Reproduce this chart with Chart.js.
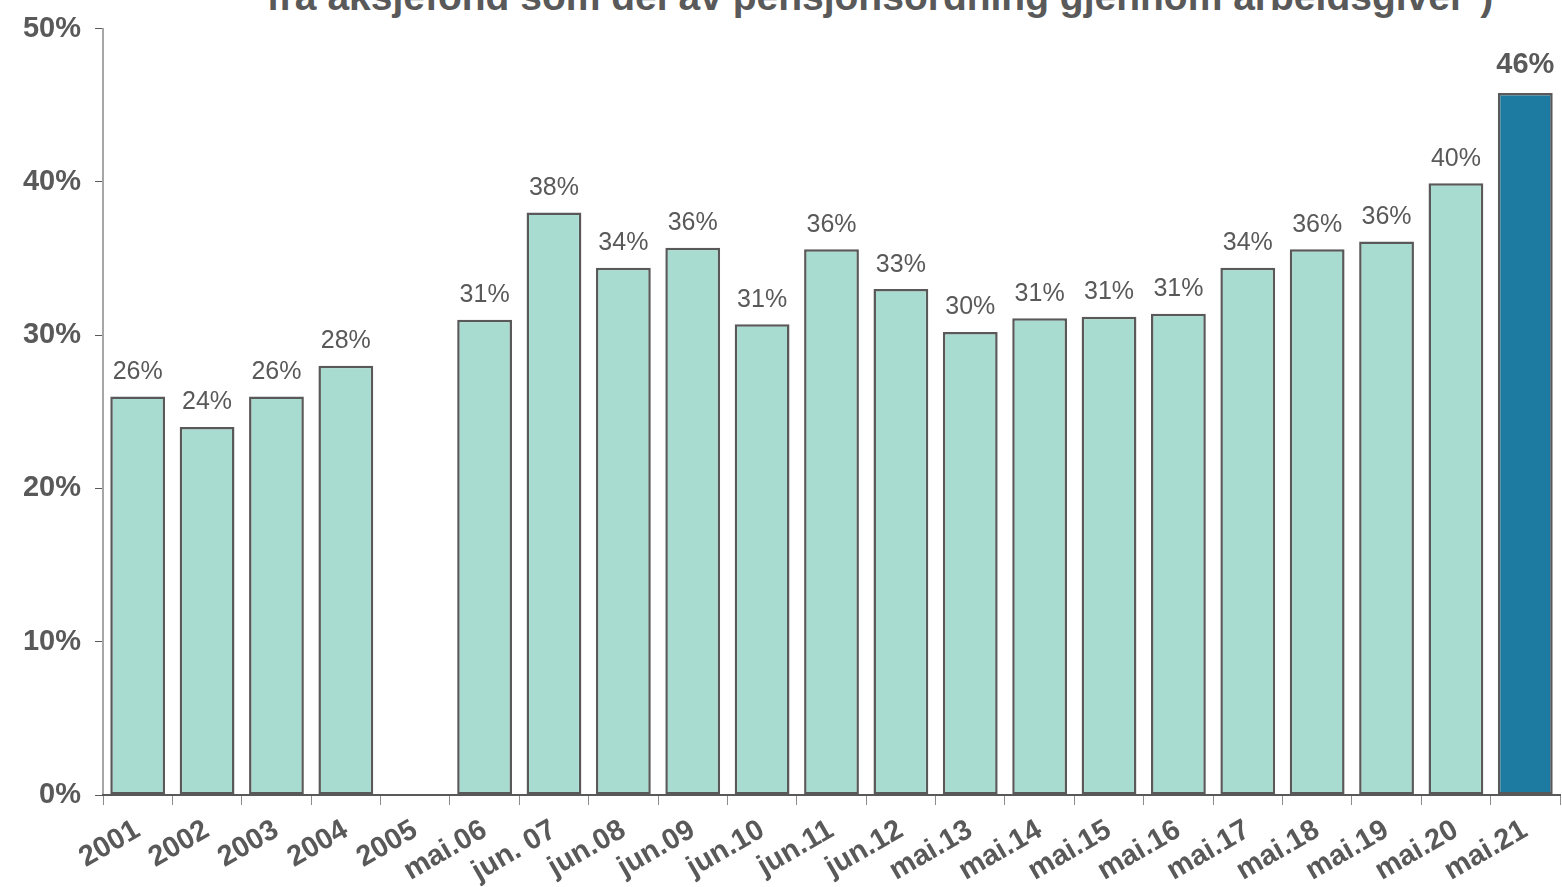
<!DOCTYPE html>
<html>
<head>
<meta charset="utf-8">
<script src="https://cdn.jsdelivr.net/npm/chart.js@4"></script>
<style>
  html, body { margin: 0; padding: 0; background: #fff; overflow: hidden; }
  #wrap { position: relative; width: 1562px; height: 887px; }
  #tittel {
    position: absolute; top: -25px; left: 250px; width: 1260px;
    font: bold 39px "Liberation Sans", Arial, sans-serif; color: #595959;
    text-align: center; white-space: nowrap;
  }
  canvas { position: absolute; left: 0; top: 0; }
</style>
</head>
<body>
<div id="wrap">
  <div id="tittel">fra aksjefond som del av pensjonsordning gjennom arbeidsgiver*)</div>
  <canvas id="barChart" width="1562" height="887"></canvas>
</div>
<script>
// Kategorier og verdier (andel i prosent)
var kategorier = ["2001", "2002", "2003", "2004", "2005", "mai.06", "jun. 07", "jun.08", "jun.09", "jun.10",
    "jun.11", "jun.12", "mai.13", "mai.14", "mai.15", "mai.16", "mai.17", "mai.18", "mai.19", "mai.20", "mai.21"];
var andel = [26.0, 24.0, 26.0, 28.0, null, 31.0, 38.0, 34.4, 35.7, 30.7,
    35.6, 33.0, 30.2, 31.1, 31.2, 31.4, 34.4, 35.6, 36.1, 39.9, 45.8];
var yTicks = [0, 10, 20, 30, 40, 50];

var gra = '#595959';
var farger = andel.map(function (v, i) { return i === andel.length - 1 ? '#1D7AA0' : '#A8DCD1'; });

// Verdietiketter over søylene
var etiketter = {
    id: 'etiketter',
    afterDatasetsDraw: function (chart) {
        var ctx = chart.ctx;
        var meta = chart.getDatasetMeta(0);
        ctx.save();
        ctx.textAlign = 'center';
        ctx.textBaseline = 'bottom';
        ctx.fillStyle = gra;
        meta.data.forEach(function (bar, i) {
            var v = andel[i];
            if (v === null) return;
            var siste = i === andel.length - 1;
            ctx.font = (siste ? 'bold 29px' : '25px') + ' "Liberation Sans", Arial, sans-serif';
            ctx.fillText(Math.round(v) + '%', bar.x, bar.y - (siste ? 13 : 12));
        });
        ctx.restore();
    }
};

var ctx = document.getElementById('barChart').getContext('2d');
var barChart = new Chart(ctx, {
    type: 'bar',
    data: {
        labels: kategorier,
        datasets: [{
            data: andel,
            backgroundColor: farger,
            borderColor: gra,
            borderWidth: 2.5,
            borderSkipped: false,
            barPercentage: 0.79,
            categoryPercentage: 1.0
        }]
    },
    options: {
        responsive: false,
        animation: false,
        layout: { padding: { top: 0, right: 2, left: 8, bottom: 0 } },
        plugins: { legend: { display: false }, tooltip: { enabled: false }, title: { display: false } },
        scales: {
            y: {
                min: 0, max: 50,
                afterBuildTicks: function (axis) { axis.ticks = yTicks.map(function (v) { return { value: v }; }); },
                afterFit: function (axis) { axis.width = 95; },
                border: { display: true, color: '#A6A6A6', width: 2 },
                grid: { drawOnChartArea: false, drawTicks: true, tickLength: 8, color: gra },
                ticks: {
                    color: gra, padding: 14,
                    font: { family: '"Liberation Sans", Arial, sans-serif', size: 29, weight: 'bold', lineHeight: 1.0 },
                    callback: function (v) { return v + '%'; }
                }
            },
            x: {
                offset: true,
                afterFit: function (axis) { axis.height = 92; },
                border: { display: true, color: gra, width: 2 },
                grid: { offset: true, drawOnChartArea: false, drawTicks: true, tickLength: 10, color: '#8C8C8C' },
                ticks: {
                    color: gra, padding: 8, autoSkip: false,
                    minRotation: 30, maxRotation: 30,
                    font: { family: '"Liberation Sans", Arial, sans-serif', size: 29, weight: 'bold' }
                }
            }
        }
    },
    plugins: [etiketter]
});
</script>
</body>
</html>
